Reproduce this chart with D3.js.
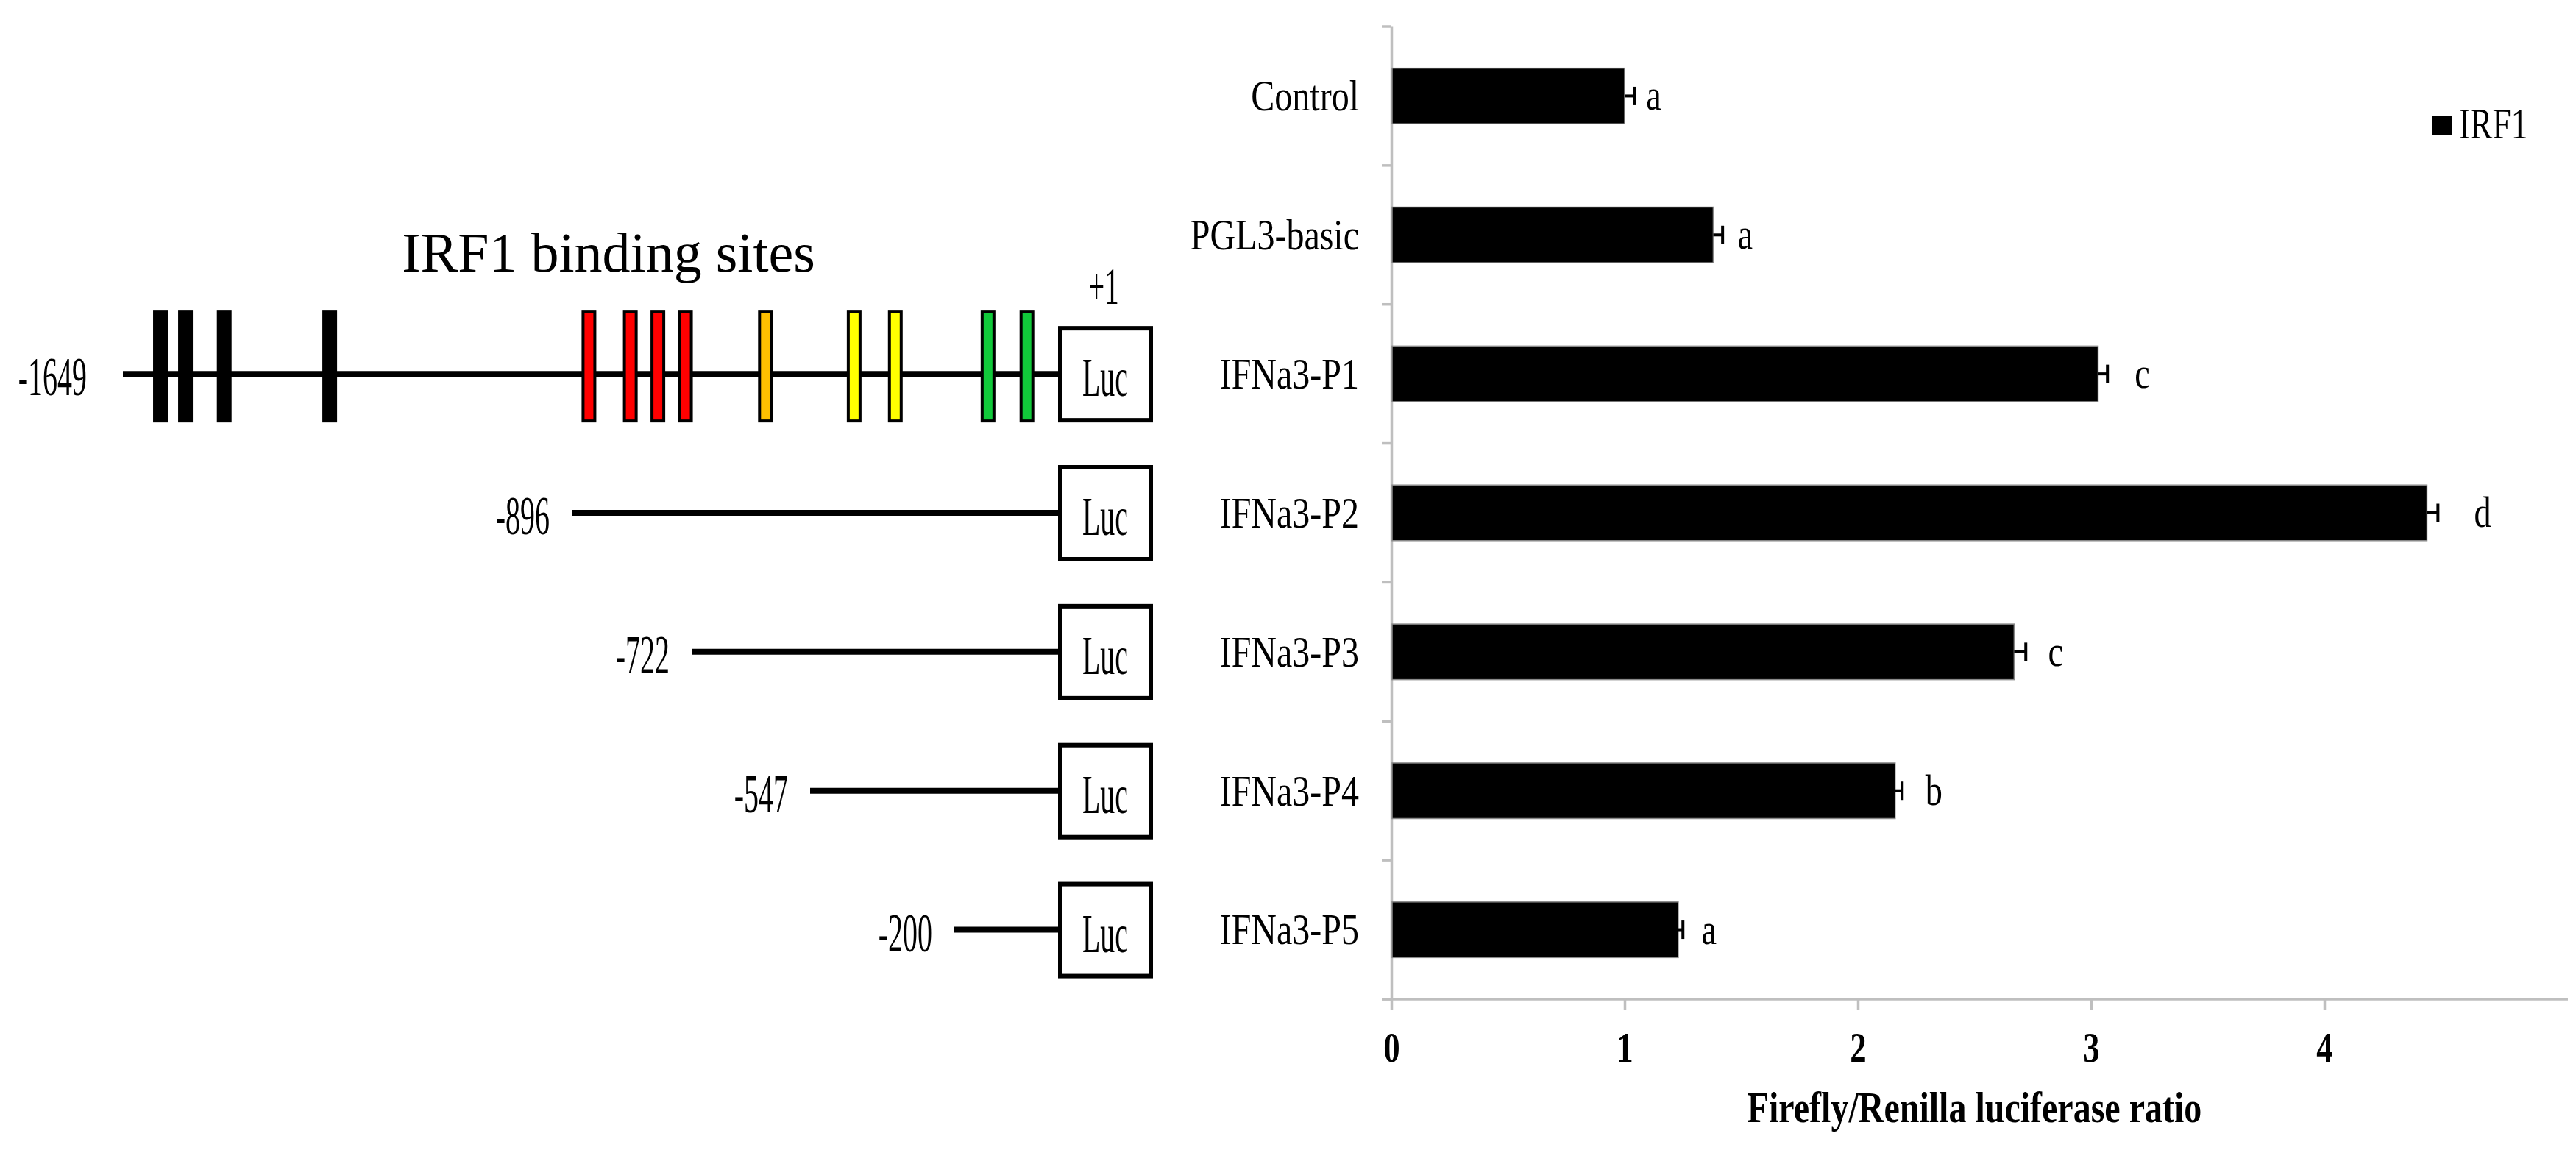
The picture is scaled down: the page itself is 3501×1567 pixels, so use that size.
<!DOCTYPE html>
<html>
<head>
<meta charset="utf-8">
<script src="https://cdn.jsdelivr.net/npm/d3@7"></script>
<style>
  body { margin: 0; background: #fff; }
  svg { display: block; }
  text { font-family: "Liberation Serif", "Times New Roman", serif; fill: #000; }
</style>
</head>
<body>
<svg width="3501" height="1567"></svg>
<script>
// bar chart data
const categories = ['Control', 'PGL3-basic', 'IFNa3-P1', 'IFNa3-P2', 'IFNa3-P3', 'IFNa3-P4', 'IFNa3-P5']
const ratios = [1.0, 1.38, 3.03, 4.44, 2.67, 2.16, 1.23]
const errors = [0.044, 0.04, 0.04, 0.047, 0.05, 0.03, 0.02]
const letters = ['a', 'a', 'c', 'd', 'c', 'b', 'a']
const xTicks = [0, 1, 2, 3, 4]

// promoter constructs (bp upstream of +1), one per row
const constructStarts = [-1649, -896, -722, -547, -200]
const constructRows = ['IFNa3-P1', 'IFNa3-P2', 'IFNa3-P3', 'IFNa3-P4', 'IFNa3-P5']

// IRF1 binding sites on the full length promoter
const sitesBlack = [-1586, -1544, -1479, -1302]
const sitesRed = [-871, -811, -771, -731]
const sitesOrange = [-613]
const sitesYellow = [-441, -342]
const sitesGreen = [-135, -60]

const svg = d3.select('svg')

const x = d3.scaleLinear().domain([0, 5]).range([1891, 3476])
const y = d3.scaleBand().domain(categories).range([36, 1358]).paddingInner(0.6).paddingOuter(0.3)
const rowMid = c => y(c) + y.bandwidth() / 2

// schematic (not to scale) position of the promoter, breaks at the deletion points
const bp = d3.scaleLinear()
    .domain([-1649, -896, -722, -547, -200, 0])
    .range([167, 777, 940, 1101, 1297, 1438])

function label(g, px, py, s, size, sx, anchor, weight) {
    return g.append('text')
        .attr('transform', `translate(${px},${py}) scale(${sx},1)`)
        .attr('text-anchor', anchor || 'start')
        .attr('font-size', size)
        .attr('font-weight', weight || 'normal')
        .text(s)
}

// ---------- left: promoter diagram ----------
const dg = svg.append('g')

label(dg, 827, 369, 'IRF1 binding sites', 76, 1, 'middle')

constructStarts.forEach((start, i) => {
    const cy = rowMid(constructRows[i])
    dg.append('line')
        .attr('x1', bp(start)).attr('x2', bp(0))
        .attr('y1', cy).attr('y2', cy)
        .attr('stroke', '#000').attr('stroke-width', 8)
    label(dg, bp(start) - (i == 0 ? 49 : 30), cy + 29, String(start), 74, 0.54, 'end')

    // luciferase box
    dg.append('rect')
        .attr('x', bp(0) + 3).attr('y', cy - 62)
        .attr('width', 123).attr('height', 125)
        .attr('fill', '#fff').attr('stroke', '#000').attr('stroke-width', 6)
    label(dg, bp(0) + 64, cy + 30, 'Luc', 74, 0.54, 'middle')
})

const fullY = rowMid(constructRows[0])
label(dg, bp(0) + 62, fullY - 95, '+1', 72, 0.54, 'middle')

dg.selectAll('rect.black').data(sitesBlack).enter().append('rect')
    .attr('class', 'black')
    .attr('x', d => bp(d) - 10).attr('y', fullY - 87)
    .attr('width', 20).attr('height', 153)
    .attr('fill', '#000')

const colorSites = [
    [sitesRed, '#ff0000'],
    [sitesOrange, '#ffc000'],
    [sitesYellow, '#ffff00'],
    [sitesGreen, '#11c93a']
]
colorSites.forEach(([sites, col]) => {
    dg.selectAll(null).data(sites).enter().append('rect')
        .attr('x', d => bp(d) - 8).attr('y', fullY - 85)
        .attr('width', 16).attr('height', 149)
        .attr('fill', col).attr('stroke', '#000').attr('stroke-width', 4)
})

// ---------- right: bar chart ----------
const cg = svg.append('g')
const axisGrey = '#bfbfbf'

// category boundary ticks
const bounds = d3.range(categories.length + 1).map(i => y.range()[0] + i * y.step())
cg.selectAll('line.btick').data(bounds).enter().append('line')
    .attr('x1', x(0) - 13).attr('x2', x(0))
    .attr('y1', d => d).attr('y2', d => d)
    .attr('stroke', axisGrey).attr('stroke-width', 3.5)

// x axis line
cg.append('line')
    .attr('x1', x(0) - 13).attr('x2', x(5) + 14)
    .attr('y1', y.range()[1]).attr('y2', y.range()[1])
    .attr('stroke', axisGrey).attr('stroke-width', 3.5)

const xAxis = cg.append('g')
    .attr('transform', `translate(0,${y.range()[1]})`)
    .call(d3.axisBottom(x).tickValues(xTicks).tickFormat(d3.format('d')).tickSize(15).tickSizeOuter(0))
xAxis.select('.domain').remove()
xAxis.selectAll('line').attr('stroke', axisGrey).attr('stroke-width', 3.5)
xAxis.selectAll('text')
    .attr('y', 85).attr('dy', 0)
    .attr('font-size', 56).attr('font-weight', 'bold')
    .attr('font-family', '"Liberation Serif", serif')
    .attr('transform', 'scale(0.8,1)')

const yAxis = cg.append('g')
    .attr('transform', `translate(${x(0)},0)`)
    .call(d3.axisLeft(y).tickSize(0).tickSizeOuter(0).tickPadding(44 / 0.8))
yAxis.select('.domain').attr('stroke', axisGrey).attr('stroke-width', 3.5)
yAxis.selectAll('text')
    .attr('dy', '0.33em')
    .attr('font-size', 60)
    .attr('font-family', '"Liberation Serif", serif')
    .attr('transform', 'scale(0.8,1)')

// bars
cg.selectAll('rect.bar').data(categories).enter().append('rect')
    .attr('class', 'bar')
    .attr('x', x(0) + 1)
    .attr('y', d => y(d))
    .attr('width', (d, i) => x(ratios[i]) - x(0) - 1)
    .attr('height', y.bandwidth())
    .attr('fill', '#000').attr('stroke', '#8a8a8a').attr('stroke-width', 1.5)

// error bars (plus side)
categories.forEach((c, i) => {
    const cy = rowMid(c)
    const xe = x(ratios[i] + errors[i])
    cg.append('line')
        .attr('x1', x(ratios[i])).attr('x2', xe)
        .attr('y1', cy).attr('y2', cy)
        .attr('stroke', '#000').attr('stroke-width', 4)
    cg.append('line')
        .attr('x1', xe).attr('x2', xe)
        .attr('y1', cy - 12.5).attr('y2', cy + 12.5)
        .attr('stroke', '#000').attr('stroke-width', 4)
    label(cg, x(ratios[i] * 1.032) + 19, cy + 19, letters[i], 60, 0.77, 'start')
})

// x axis title
label(cg, (x(0) + x(5)) / 2, 1525, 'Firefly/Renilla luciferase ratio', 60, 0.8, 'middle', 'bold')

// legend
cg.append('rect')
    .attr('x', 3305).attr('y', 157).attr('width', 27).attr('height', 26)
    .attr('fill', '#000')
label(cg, 3342, 188, 'IRF1', 59, 0.77, 'start')
</script>
</body>
</html>
